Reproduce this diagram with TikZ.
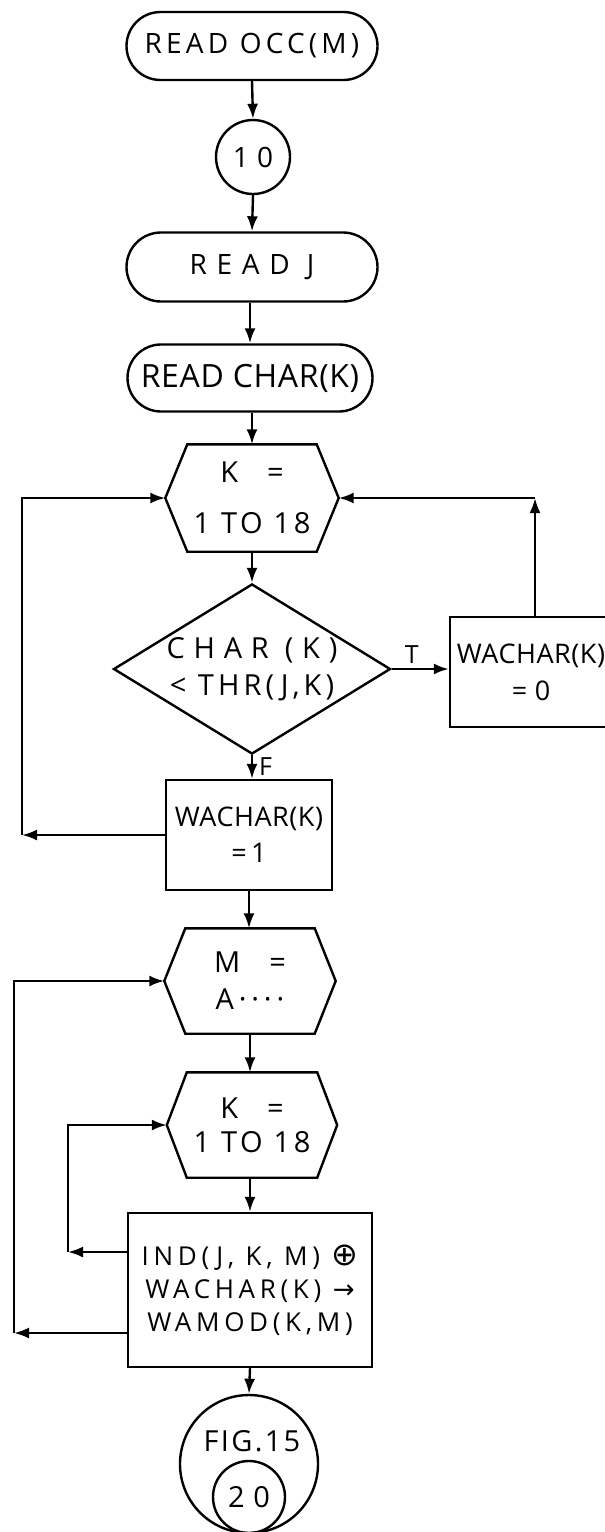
\documentclass[tikz,border=0pt]{standalone}
\usepackage{fontspec}
\setmainfont{Open Sans}
\newfontfamily\symf{DejaVu Sans}
\usetikzlibrary{shapes.misc,shapes.geometric,arrows.meta,calc}
\tikzset{
  every node/.style={inner sep=0pt},
  flow/.style={line width=2.4pt},
  arr/.style={flow,-{Latex[length=15pt,width=11pt]}},
  fnt/.style n args={3}{font=\fontsize{#1}{#2}\selectfont\addfontfeature{LetterSpace=#3}},
  term/.style={rounded rectangle, draw, flow, align=center},
  conn/.style={circle, draw, flow, align=center},
  proc/.style={rectangle, draw, flow, align=center},
  hexa/.style={rectangle, align=center},
  dec/.style={diamond, draw, flow, aspect=1.6, align=center},
  lbl/.style={fnt={25}{28}{0}},
}
\newcommand\hexout[2]{\draw[flow] ($(#1.north west)+(#2,0)$) -- ($(#1.north east)+(-#2,0)$) -- (#1.east) -- ($(#1.south east)+(-#2,0)$) -- ($(#1.south west)+(#2,0)$) -- (#1.west) -- cycle;}
\begin{document}
\begin{tikzpicture}[x=1pt,y=-1pt]
\useasboundingbox (0,0) rectangle (605,1532);

% nodes
\node[term, minimum width=251pt, minimum height=68pt, fnt={28}{32}{15}] (r1) at (252,46) {READ OCC(M)};
\node[conn, minimum size=74pt, fnt={28}{32}{30}] (c10) at (253,157) {10};
\node[term, minimum width=251pt, minimum height=69pt, fnt={28}{32}{35}] (r2) at (252,267) {READ J};
\node[term, minimum width=245pt, minimum height=67pt, fnt={32}{36}{2}] (r3) at (250,378) {READ CHAR(K)};
\node[hexa, minimum width=173pt, minimum height=107pt, fnt={29}{51}{12}] (h1) at (252,498) {K\hspace{1em}=\\1 TO 18};
\hexout{h1}{22}
\node[dec, minimum width=277pt, minimum height=160pt, fnt={29}{37}{14}] (d1) at (252,669) {{\addfontfeature{LetterSpace=30}CHAR (K)}\\< THR(J,K)};
\node[proc, minimum width=162pt, minimum height=110pt, fnt={27}{37}{2}] (b0) at (531,672) {WACHAR(K)\\= 0};
\node[proc, minimum width=166pt, minimum height=110pt, fnt={27}{36}{2}] (b1) at (249,835) {WACHAR(K)\\=\,1};
\node[hexa, minimum width=171pt, minimum height=105pt, fnt={29}{37}{10}] (h2) at (250,981) {M\hspace{1em}=\\A\,·\,·\,·\,·};
\hexout{h2}{21}
\node[hexa, minimum width=170pt, minimum height=105pt, fnt={29}{34}{12}] (h3) at (252,1125) {K\hspace{1em}=\\1 TO 18};
\hexout{h3}{20}
\node[proc, minimum width=244pt, minimum height=154pt, fnt={26}{33}{18}] (b2) at (250,1290) {IND(J, K, M) {\symf\fontsize{32}{33}\selectfont ⊕}\\WACHAR(K) {\symf →}\\WAMOD(K,M)};
\node[conn, minimum size=138pt] (c20) at (249,1464) {};
\node[fnt={29}{32}{8}] (fig) at (252,1441) {FIG.15};
\node[conn, minimum size=72pt, fnt={29}{32}{30}] (c20in) at (249,1497) {20};

% connectors
\draw[arr] (r1.south) -- (c10.north);
\draw[arr] (c10.south) -- (r2.north);
\draw[arr] (r3.north |- r2.south) -- (r3.north);
\draw[arr] (h1.north |- r3.south) -- (h1.north);
\draw[arr] (h1.south) -- (d1.north);
\draw[arr] (d1.east) -- (d1.east -| b0.west) node[pos=0.35, above=4pt, lbl] {T};
\draw[arr] (d1.south) -- (d1.south |- b1.north) node[midway, right=6pt, lbl] {F};

\coordinate (cR) at (535,498);
\draw[arr] (b0.north -| cR) -- (cR);
\draw[arr] (cR) -- (h1.east);

\coordinate (cL) at (22,835);
\draw[arr] (b1.west) -- (cL);
\draw[arr] (cL) |- (h1.west);

\draw[arr] (b1.south) -- (b1.south |- h2.north);
\draw[arr] (h2.south) -- (h2.south |- h3.north);
\draw[arr] (h3.south -| b2.north) -- (b2.north);
\draw[arr] (b2.south) -- (c20.north);

\coordinate (cI) at (68,1252);
\draw[arr] (b2.west |- cI) -- (cI);
\draw[arr] (cI) |- (h3.west);

\coordinate (cO) at (14,1333);
\draw[arr] (b2.west |- cO) -- (cO);
\draw[arr] (cO) |- (h2.west);
\end{tikzpicture}
\end{document}
